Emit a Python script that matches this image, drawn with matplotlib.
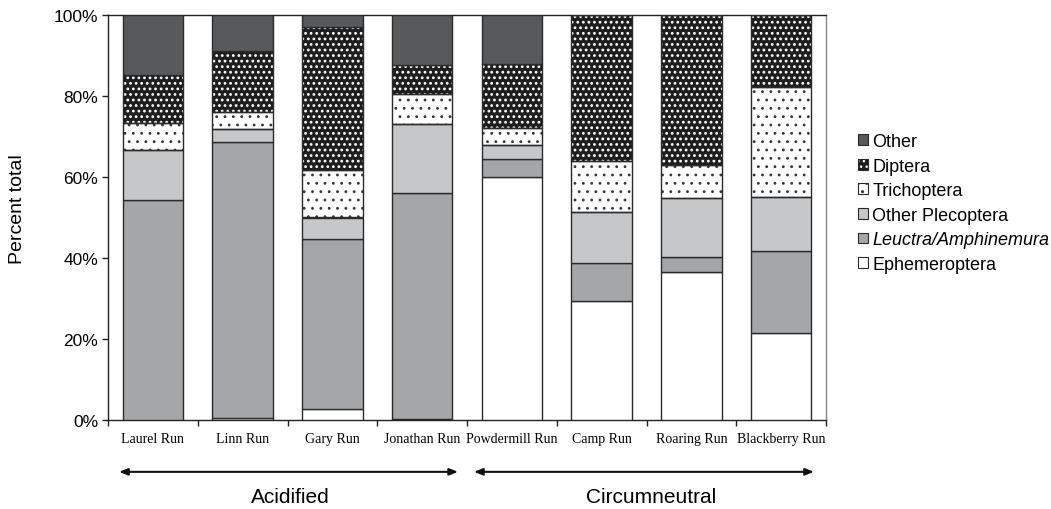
import numpy as np
import matplotlib
matplotlib.use('Agg')
import matplotlib.pyplot as plt
from matplotlib.patches import Patch

# stream names and composition (percent of total)
streams = ['Laurel Run', 'Linn Run', 'Gary Run', 'Jonathan Run',
           'Powdermill Run', 'Camp Run', 'Roaring Run', 'Blackberry Run']
taxa = ['Ephemeroptera', 'Leuctra/Amphinemura', 'Other Plecoptera',
        'Trichoptera', 'Diptera', 'Other']

ephemeroptera = [0.0, 0.4, 2.7, 0.3, 60.0, 29.5, 36.5, 21.6]
leuctra       = [54.3, 68.2, 42.1, 55.7, 4.4, 9.2, 3.8, 20.1]
other_plec    = [12.4, 3.3, 5.2, 17.2, 3.6, 12.7, 14.5, 13.4]
trichoptera   = [6.7, 4.2, 11.7, 7.3, 4.0, 12.5, 8.1, 27.1]
diptera       = [11.7, 15.1, 35.3, 7.2, 15.8, 36.1, 37.1, 17.8]
other         = [14.9, 8.8, 3.0, 12.3, 12.2, 0.0, 0.0, 0.0]

groups = ['Acidified', 'Circumneutral']
yticks = [0, 20, 40, 60, 80, 100]

series = [ephemeroptera, leuctra, other_plec, trichoptera, diptera, other]
# (facecolor, hatch, hatch colour, hatch linewidth)
styles = [('white', None, None, None),
          ('#a5a6a8', None, None, None),
          ('#c6c7c9', None, None, None),
          ('white', '..', '#333333', 0.8),
          ('#1e1e1e', '...', 'white', 1.2),
          ('#58595b', None, None, None)]

edge = '#2a2a2a'

fig = plt.figure(figsize=(10.51, 5.10), dpi=100)
ax = fig.add_axes([108/1051, 1-421/510, (826-108)/1051, (421-16)/510])

x = np.arange(len(streams))
width = 0.675
bottom = np.zeros(len(streams))
handles = []
for vals, (fc, hatch, hc, hlw), name in zip(series, styles, taxa):
    vals = np.array(vals)
    if hatch:
        with plt.rc_context({'hatch.linewidth': hlw}):
            ax.bar(x, vals, width, bottom=bottom, color=fc, edgecolor=hc,
                   hatch=hatch, linewidth=0, zorder=2)
            h0 = Patch(facecolor=fc, edgecolor=hc, hatch=hatch, linewidth=0)
        ax.bar(x, vals, width, bottom=bottom, color='none', edgecolor=edge,
               linewidth=1.0, zorder=3)
        h = (h0, Patch(facecolor='none', edgecolor=edge, linewidth=0.8))
    else:
        ax.bar(x, vals, width, bottom=bottom, color=fc, edgecolor=edge,
               linewidth=1.0, zorder=3)
        h = Patch(facecolor=fc, edgecolor=edge, linewidth=0.8)
    handles.append(h)
    bottom += vals

ax.set_xlim(-0.5, len(streams) - 0.5)
ax.set_ylim(0, 100)
ax.set_yticks(yticks)
ax.set_yticklabels([f'{t}%' for t in yticks], family='Liberation Sans', fontsize=12.5)
ax.set_xticks(x)
ax.set_xticklabels(streams, family='Liberation Serif', fontsize=10)
ax.set_xticks(np.arange(len(streams) + 1) - 0.5, minor=True)
ax.tick_params(axis='x', which='major', length=0, pad=9)
ax.tick_params(axis='x', which='minor', length=4, width=1, direction='out', color='#222')
ax.tick_params(axis='y', length=4, width=1, direction='out', pad=3, color='#222')
for s in ['left', 'bottom', 'top']:
    ax.spines[s].set_color('#222')
    ax.spines[s].set_linewidth(1.0)
ax.spines['right'].set_color('#888')
ax.spines['right'].set_linewidth(1.0)

fig.text(18/1051, 1-209/510, 'Percent total', rotation=90, ha='center', va='center',
         family='Liberation Sans', fontsize=14)

leg = ax.legend(handles[::-1], [t for t in taxa[::-1]], loc='center left',
                bbox_to_anchor=(849/1051, 1-204/510), bbox_transform=fig.transFigure,
                frameon=False, borderpad=0, handlelength=0.55, handleheight=0.55,
                handletextpad=0.25, labelspacing=0.42,
                prop={'family': 'Liberation Sans', 'size': 13})
for t in leg.get_texts():
    if t.get_text().startswith('Leuctra'):
        t.set_style('italic')

# group arrows below the axis
tr = ax.get_xaxis_transform()
arrow_y = -0.128
for (x0, x1) in [(-0.377, 3.40), (3.578, 7.366)]:
    ax.annotate('', xy=(x1, arrow_y), xytext=(x0, arrow_y), xycoords=tr, textcoords=tr,
                arrowprops=dict(arrowstyle='<|-|>,head_length=0.5,head_width=0.2',
                                color='#111', lw=1.5, shrinkA=0, shrinkB=0),
                annotation_clip=False)
for gx, g in zip([1.528, 5.55], groups):
    ax.text(gx, -0.188, g, transform=tr, ha='center', va='center',
            family='Liberation Sans', fontsize=15)

fig.savefig('out.png', dpi=100)
